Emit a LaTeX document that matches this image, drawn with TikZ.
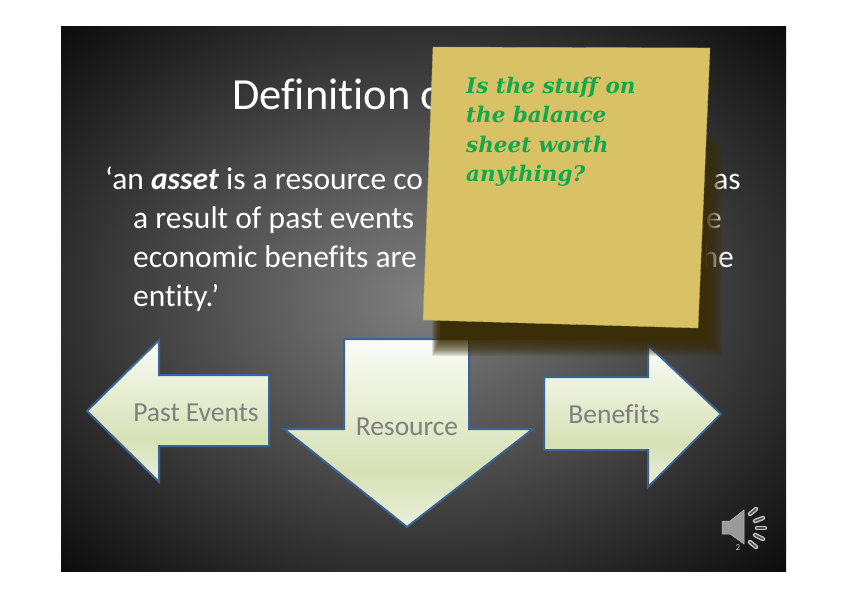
\documentclass[tikz,border=0pt]{standalone}
\usepackage{fontspec}
\setmainfont[RawFeature=-liga]{Carlito}
\newfontfamily\notefont{DejaVu Serif}
\definecolor{noteyellow}{HTML}{D9C266}
\definecolor{noteshadow}{HTML}{3A2E08}
\definecolor{notegreen}{HTML}{12A84E}
\definecolor{arrowline}{HTML}{3A6496}
\definecolor{arrowtext}{HTML}{7F7F7F}
\definecolor{iconfill}{HTML}{9A9A9A}
\definecolor{arrowbot}{HTML}{EAF0DC}
\definecolor{arrowmid}{HTML}{D6E1B5}
\definecolor{arrowtop}{HTML}{FAFCF7}
\pgfdeclareradialshading{slideglow}{\pgfpoint{0bp}{0bp}}{
    color(0bp)=(black!50!white);
    color(36bp)=(black!96!white)}
\pgfdeclareverticalshading{arrowglow}{100bp}{
    color(0bp)=(arrowbot);
    color(25bp)=(arrowbot);
    color(40bp)=(arrowmid);
    color(75bp)=(arrowtop);
    color(100bp)=(arrowtop)}
\begin{document}
\begin{tikzpicture}[
    x=1pt, y=-1pt,
    blockarrow/.style={draw=arrowline, line width=2pt, line join=miter, shading=arrowglow},
    bodytext/.style={anchor=base west, inner sep=0pt, text=white, font=\fontsize{31.5}{33}\selectfont},
    bodyend/.style={anchor=base east, inner sep=0pt, text=white, font=\fontsize{31.5}{33}\selectfont},
    arrowlabel/.style={anchor=base, inner sep=0pt, text=arrowtext, font=\fontsize{27.5}{30}\selectfont},
    notetext/.style={anchor=base west, inner sep=0pt, text=notegreen, font=\notefont\bfseries\itshape\fontsize{21.5}{26}\selectfont}
]
\useasboundingbox (0,0) rectangle (848,599);

\def\sx{133}
\def\ya{189}
\def\yb{228}
\def\yc{267}
\def\yd{306}

% page and slide
\fill[white] (0,0) rectangle (848,599);
\shade[shading=slideglow] (61,27) rectangle (786,571);

% title
\node[anchor=base west, inner sep=0pt, text=white, font=\fontsize{44.5}{48}\selectfont] (title) at (232,110) {Definition o};

% body lines
\node[bodytext] (linea) at (105,\ya) {‘an \textbf{\textit{asset}} is a resource co};
\node[bodytext] (lineb) at (\sx,\yb) {a result of past events};
\node[bodytext] (linec) at (\sx,\yc) {economic benefits are};
\node[bodytext] (lined) at (\sx,\yd) {entity.’};
\node[bodyend] (enda) at (741,\ya) {as};
\node[bodyend] (endb) at (722,\yb) {e};
\node[bodyend] (endc) at (734,\yc) {he};

% block arrows
\path[blockarrow] (87,411) -- (159,340) -- (159,375) -- (269,375) -- (269,446)
    -- (159,446) -- (159,482) -- cycle;
\path[blockarrow] (344,339) -- (469,339) -- (469,429) -- (533,429) -- (407,527)
    -- (284,429) -- (344,429) -- cycle;
\path[blockarrow] (544,377) -- (648,377) -- (648,345) -- (721,414) -- (648,487)
    -- (648,450) -- (544,450) -- cycle;

% arrow labels
\node[arrowlabel] (past) at (196,421) {Past Events};
\node[arrowlabel] (resource) at (407,435) {Resource};
\node[arrowlabel] (benefits) at (614,423) {Benefits};

% shadow of the note
\foreach \d in {16,15,...,1} {
    \fill[noteshadow, opacity=0.1] (690,{130+\d}) -- ({706+\d},{130+\d}) -- ({706+\d},{340+\d})
        -- ({440-\d/2},{340+\d}) -- ({440-\d/2},310) -- cycle;
}
\fill[noteshadow] (690,130) -- (706,130) -- (706,340) -- (440,340) -- (440,310) -- cycle;

% note
\fill[noteyellow, draw=noteyellow!85!black, line width=0.4pt] (433,47) -- (710,48) -- (698,328) -- (423,320) -- cycle;
\node[notetext] (notea) at (466,94) {Is the stuff on};
\node[notetext] (noteb) at (466,123) {the balance};
\node[notetext] (notec) at (466,152) {sheet worth};
\node[notetext] (noted) at (466,181) {anything?};

% speaker
\fill[iconfill, draw=black!25, line width=0.5pt] (722,521) -- (730,521) -- (744,510) -- (744,544) -- (730,534) -- (722,534) -- cycle;
\foreach \xa/\ua/\xb/\ub in {750/514/756/509, 755/521/763/518, 757/528/765/528, 755/535/763/539, 750/542/756/547} {
    \draw[black!25, line width=4.5pt, line cap=round] (\xa,\ua) -- (\xb,\ub);
    \draw[black!70, line width=1.4pt, line cap=round] (\xa,\ua) -- (\xb,\ub);
}
\node[inner sep=0pt, text=black!20, font=\fontsize{9}{10}\selectfont] (pagenum) at (738,548) {2};

\end{tikzpicture}
\end{document}
